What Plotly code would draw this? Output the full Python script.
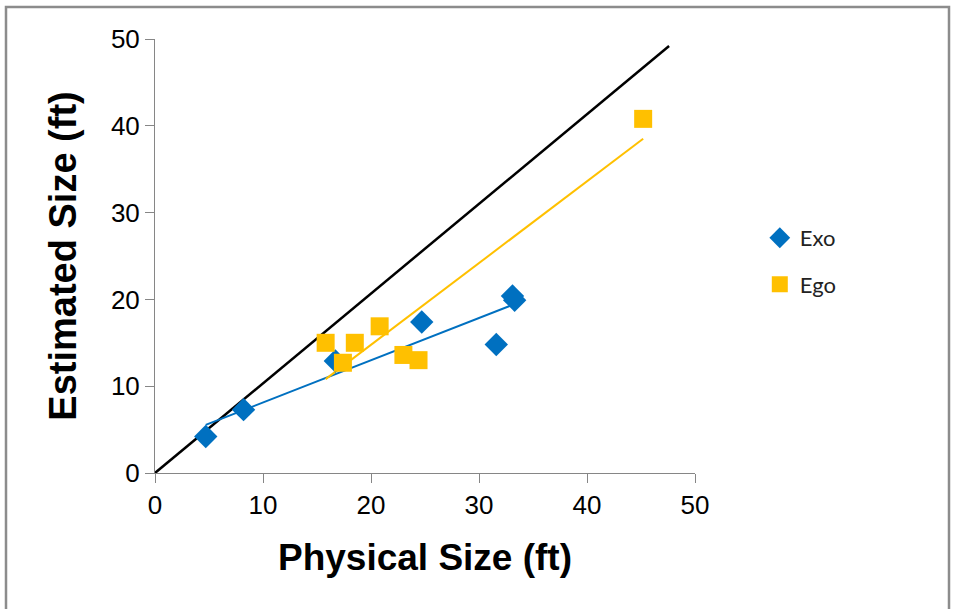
import numpy as np
import plotly.graph_objects as go

# Data
exo_x = [4.7, 8.2, 16.7, 24.7, 31.6, 33.1, 33.3]
exo_y = [4.2, 7.3, 12.9, 17.4, 14.8, 20.4, 19.9]
ego_x = [15.8, 17.4, 18.5, 20.8, 23.0, 24.4, 45.2]
ego_y = [15.0, 12.7, 15.0, 16.9, 13.6, 13.0, 40.8]
ref_x = [0, 47.6]
ref_y = [0, 49.2]
tick_vals = [0, 10, 20, 30, 40, 50]

BLUE = "#0070C0"
GOLD = "#FFC000"


def trend(xs, ys):
    m, b = np.polyfit(xs, ys, 1)
    xx = np.array([min(xs), max(xs)])
    return xx, m * xx + b


fig = go.Figure()

fig.add_trace(go.Scatter(x=ref_x, y=ref_y, mode="lines",
                         line=dict(color="black", width=2.5),
                         showlegend=False, hoverinfo="skip"))

tx, ty = trend(exo_x, exo_y)
fig.add_trace(go.Scatter(x=tx, y=ty, mode="lines",
                         line=dict(color=BLUE, width=2),
                         showlegend=False, hoverinfo="skip"))
tx, ty = trend(ego_x, ego_y)
fig.add_trace(go.Scatter(x=tx, y=ty, mode="lines",
                         line=dict(color=GOLD, width=2),
                         showlegend=False, hoverinfo="skip"))

fig.add_trace(go.Scatter(x=exo_x, y=exo_y, mode="markers", name="Exo",
                         legendgroup="exo",
                         marker=dict(symbol="diamond", size=18, color=BLUE)))
fig.add_trace(go.Scatter(x=ego_x, y=ego_y, mode="markers", name="Ego",
                         legendgroup="ego",
                         marker=dict(symbol="square", size=18, color=GOLD)))

axis_common = dict(
    range=[0, 50], tickvals=tick_vals, showgrid=False, zeroline=False,
    showline=True, linecolor="#868686", linewidth=1,
    ticks="outside", ticklen=9, tickcolor="#868686", tickwidth=1,
    tickfont=dict(family="Liberation Sans, Arial", size=26, color="black"),
)

fig.update_layout(
    width=956, height=609,
    margin=dict(l=155, r=261, t=39, b=136),
    paper_bgcolor="white", plot_bgcolor="white",
    xaxis=dict(**axis_common,
               title=dict(text="<b>Physical Size (ft)</b>", standoff=24,
                          font=dict(family="Liberation Sans, Arial", size=37, color="black"))),
    yaxis=dict(**axis_common,
               title=dict(text="<b>Estimated Size (ft)</b>", standoff=22,
                          font=dict(family="Liberation Sans, Arial", size=38, color="black"))),
    legend=dict(x=1.12, y=0.59, xanchor="left", yanchor="top",
                font=dict(family="Lato, Noto Sans", size=22, color="#222"),
                tracegroupgap=15, bgcolor="rgba(0,0,0,0)"),
    showlegend=True,
    shapes=[dict(type="rect", xref="paper", yref="paper",
                 x0=(6 - 155) / 540, x1=(949 - 155) / 540,
                 y0=(473 - 620) / 434, y1=(473 - 7) / 434,
                 line=dict(color="#8c8c8c", width=2.5), fillcolor="rgba(0,0,0,0)",
                 layer="below")],
)

fig.write_html("out.html")
